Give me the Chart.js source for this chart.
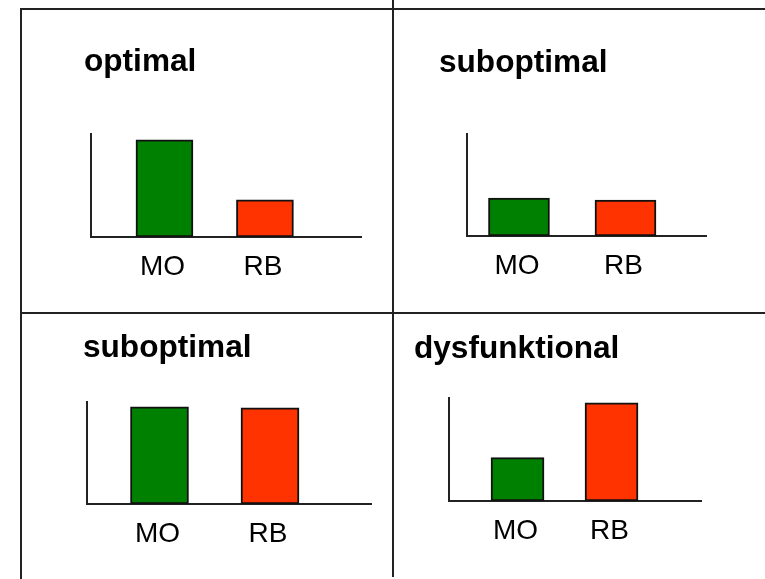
<!DOCTYPE html>
<html>
<head>
<meta charset="utf-8">
<script src="https://cdn.jsdelivr.net/npm/chart.js@4.4.1/dist/chart.umd.min.js"></script>
<style>
  body { margin: 0; background: #fff; width: 765px; height: 579px; position: relative; overflow: hidden; }
  .rule { position: absolute; background: #222; }
  canvas { position: absolute; }
</style>
</head>
<body>
<!-- frame of the four panels -->
<div class="rule" style="left:20px;top:8px;width:745px;height:2px"></div>
<div class="rule" style="left:20px;top:8px;width:2px;height:571px"></div>
<div class="rule" style="left:392px;top:0;width:2px;height:577px"></div>
<div class="rule" style="left:20px;top:312px;width:745px;height:2px"></div>

<canvas id="panel0"></canvas>
<canvas id="panel1"></canvas>
<canvas id="panel2"></canvas>
<canvas id="panel3"></canvas>

<script>
const categories = ['MO', 'RB'];
const panelTitles = ['optimal', 'suboptimal', 'suboptimal', 'dysfunktional'];
const moValues = [94, 37, 95, 42];
const rbValues = [36, 35, 94, 95];
const barColors = ['#008000', '#ff3300'];

// where each small chart sits on the page (px)
const panels = [
    { titleX: 85,  titleBase: 73,  left: 91,  right: 361, top: 133, bottom: 237, labelBase: 275, xMin: 0.269, xMax: 2.956, barW: 57 },
    { titleX: 440, titleBase: 74,  left: 467, right: 706, top: 133, bottom: 236, labelBase: 275, xMin: 0.512, xMax: 2.756, barW: 61 },
    { titleX: 84,  titleBase: 359, left: 87,  right: 371, top: 401, bottom: 504, labelBase: 542, xMin: 0.344, xMax: 2.914, barW: 58 },
    { titleX: 415, titleBase: 360, left: 449, right: 701, top: 397, bottom: 501, labelBase: 539, xMin: 0.271, xMax: 2.952, barW: 53 }
];

Chart.defaults.font.family = "'Liberation Sans', Arial, sans-serif";
Chart.defaults.color = '#000';

panels.forEach((p, i) => {
    const canvas = document.getElementById('panel' + i);
    const cl = p.titleX - 1, ct = p.titleBase - 40;
    const cr = p.right + 2, cb = p.labelBase + 15;
    canvas.width = cr - cl;
    canvas.height = cb - ct;
    canvas.style.left = cl + 'px';
    canvas.style.top = ct + 'px';

    const values = [moValues[i], rbValues[i]];

    new Chart(canvas, {
        type: 'bar',
        data: {
            datasets: [{
                data: categories.map((c, k) => ({ x: k + 1, y: values[k] })),
                backgroundColor: barColors,
                borderColor: '#111',
                borderWidth: 2,
                borderSkipped: false,
                barThickness: p.barW
            }]
        },
        options: {
            responsive: false,
            animation: false,
            layout: { padding: { right: 2 } },
            plugins: {
                legend: { display: false },
                tooltip: { enabled: false },
                title: {
                    display: true,
                    text: panelTitles[i],
                    align: 'start',
                    color: '#000',
                    font: { size: 31.6, weight: 'bold', lineHeight: 1.2 },
                    padding: { top: 10.3, bottom: p.top - p.titleBase - 7.6 }
                }
            },
            scales: {
                x: {
                    type: 'linear',
                    bounds: 'data',
                    min: p.xMin,
                    max: p.xMax,
                    offset: false,
                    grid: { display: false, drawTicks: false },
                    border: { color: '#222', width: 2 },
                    afterBuildTicks: s => { s.ticks = categories.map((c, k) => ({ value: k + 1 })); },
                    afterFit: s => { s.height = cb - p.bottom; },
                    ticks: {
                        callback: v => categories[v - 1],
                        color: '#000',
                        font: { size: 28 },
                        padding: 13,
                        labelOffset: -2,
                        maxRotation: 0,
                        autoSkip: false
                    }
                },
                y: {
                    min: 0,
                    max: 100,
                    grid: { display: false, drawTicks: false },
                    border: { color: '#222', width: 2 },
                    ticks: { display: false },
                    afterFit: s => { s.width = p.left - cl; }
                }
            }
        }
    });
});
</script>
</body>
</html>
